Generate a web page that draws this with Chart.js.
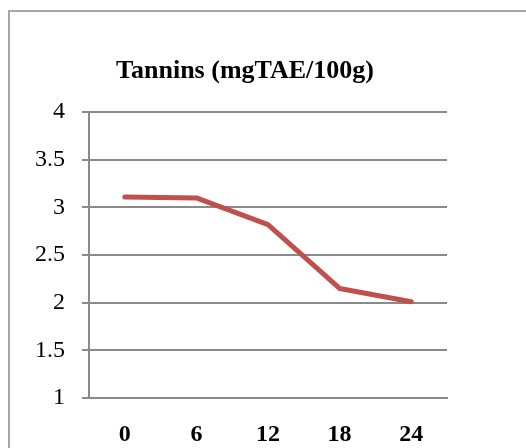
<!DOCTYPE html>
<html>
<head>
<meta charset="utf-8">
<script src="https://cdn.jsdelivr.net/npm/chart.js@4.4.1/dist/chart.umd.min.js"></script>
<style>
  html, body { margin: 0; padding: 0; background: #fff; overflow: hidden; }
  #wrap { position: relative; width: 526px; height: 448px; overflow: hidden; }
  #frame {
    position: absolute; left: 8px; top: 10px; width: 900px; height: 900px;
    border: 2px solid #a6a6a6; box-sizing: border-box; pointer-events: none;
  }
  canvas { position: absolute; left: 0; top: 0; }
</style>
</head>
<body>
<div id="wrap">
  <canvas id="c" width="526" height="448"></canvas>
  <div id="frame"></div>
</div>
<script>
// Storage time (h) and tannin content (mg TAE / 100 g)
const hours = ['0', '6', '12', '18', '24'];
const tannins = [3.11, 3.10, 2.82, 2.15, 2.01];
const yTicks = [1, 1.5, 2, 2.5, 3, 3.5, 4];
const titleText = 'Tannins (mgTAE/100g)';

const gridColor = '#8a8a8a';
const serif = "'Liberation Serif', 'Times New Roman', serif";

// Centre the title over the plot plus half of the value-axis gutter
const titleShift = {
  id: 'titleShift',
  afterLayout(chart) {
    const t = chart.titleBlock;
    if (t) t.left += 43;
  }
};

new Chart(document.getElementById('c'), {
  type: 'line',
  data: {
    labels: hours,
    datasets: [{
      data: tannins,
      borderColor: '#C0504D',
      borderWidth: 5,
      borderCapStyle: 'round',
      borderJoinStyle: 'round',
      pointRadius: 0,
      tension: 0,
      fill: false
    }]
  },
  plugins: [titleShift],
  options: {
    responsive: false,
    animation: false,
    layout: { padding: { left: 0, right: 79, top: 0, bottom: 0 } },
    plugins: {
      legend: { display: false },
      tooltip: { enabled: false },
      title: {
        display: true,
        text: titleText,
        color: '#000',
        font: { family: serif, size: 26, weight: 'bold', lineHeight: 1.2 },
        padding: { top: 56, bottom: 25 }
      }
    },
    scales: {
      x: {
        type: 'category',
        offset: true,
        grid: { display: false, drawTicks: false },
        border: { display: true, color: gridColor, width: 2 },
        ticks: {
          color: '#000',
          padding: 22,
          maxRotation: 0,
          font: { family: serif, size: 24, weight: 'bold', lineHeight: 1.2 }
        },
        afterFit: s => { s.height = 50; }
      },
      y: {
        min: 1,
        max: 4,
        afterBuildTicks: s => { s.ticks = yTicks.map(v => ({ value: v })); },
        grid: { color: gridColor, lineWidth: 2, drawTicks: true, tickLength: 7 },
        border: { display: true, color: gridColor, width: 2 },
        ticks: {
          color: '#000',
          padding: 17,
          font: { family: serif, size: 24, lineHeight: 1.2 },
          callback: v => String(v)
        },
        afterFit: s => { s.width = 89; }
      }
    }
  }
});
</script>
</body>
</html>
